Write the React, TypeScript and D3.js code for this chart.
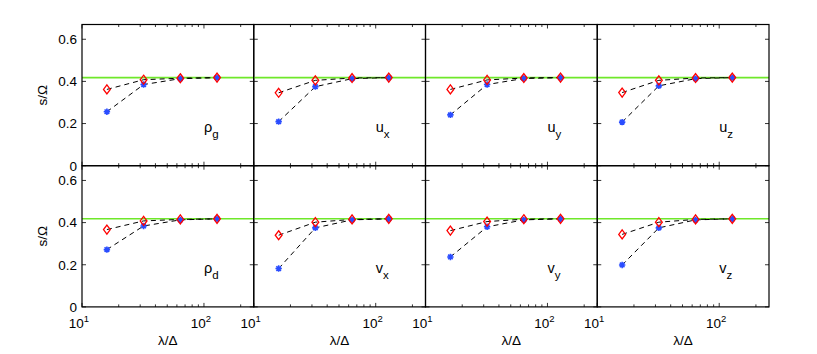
import React from "react";
import * as d3 from "d3";

// panel labels: main symbol + subscript
const panelLabels: [string, string][] = [
  ["ρ", "g"], ["u", "x"], ["u", "y"], ["u", "z"],
  ["ρ", "d"], ["v", "x"], ["v", "y"], ["v", "z"],
];

// resolution lambda/Delta
const lambdaValues = [16, 32, 64, 128];

// open red diamonds
const redSeries = [
  [0.362, 0.408, 0.415, 0.418],
  [0.346, 0.405, 0.416, 0.418],
  [0.362, 0.407, 0.416, 0.418],
  [0.347, 0.405, 0.416, 0.418],
  [0.367, 0.408, 0.415, 0.418],
  [0.340, 0.402, 0.415, 0.418],
  [0.362, 0.405, 0.416, 0.418],
  [0.344, 0.402, 0.415, 0.418],
];

// blue asterisks
const blueSeries = [
  [0.256, 0.385, 0.413, 0.418],
  [0.209, 0.375, 0.413, 0.418],
  [0.241, 0.385, 0.414, 0.418],
  [0.207, 0.379, 0.413, 0.418],
  [0.272, 0.384, 0.413, 0.418],
  [0.182, 0.375, 0.413, 0.418],
  [0.237, 0.380, 0.413, 0.418],
  [0.199, 0.375, 0.413, 0.418],
];

const growthRate = 0.418; // green reference line
const yTicks = [0, 0.2, 0.4, 0.6];
const yTickLabels = ["0", "0.2", "0.4", "0.6"];

const left = 82;
const top = 24.5;
const panelW = 171.75;
const panelH = 141.2;
const font = "'Liberation Sans', Arial, sans-serif";

const x = d3.scaleLog().domain([10, 256]).range([0, panelW]);
const y = d3.scaleLinear().domain([0, 0.67]).range([panelH, 0]);

const line = d3
  .line<number>()
  .x((_, i) => x(lambdaValues[i]))
  .y((d) => y(d));

const diamond = "M0,-4.5L3.4,0L0,4.5L-3.4,0Z";
const asterisk = "M-3.2,0H3.2M0,-3.2V3.2M-2.3,-2.3L2.3,2.3M-2.3,2.3L2.3,-2.3";

const Panel = ({ idx }: { idx: number }) => {
  const col = idx % 4;
  const row = Math.floor(idx / 4);
  const tx = left + col * panelW;
  const ty = top + row * panelH;
  const xt = x.ticks();
  const [sym, sub] = panelLabels[idx];
  return (
    <g transform={`translate(${tx},${ty})`}>
      <line x1={0} x2={panelW} y1={y(growthRate)} y2={y(growthRate)} stroke="#6fe82a" strokeWidth={1.6} />
      <path d={line(redSeries[idx]) || ""} fill="none" stroke="#000" strokeWidth={1} strokeDasharray="5,4" />
      <path d={line(blueSeries[idx]) || ""} fill="none" stroke="#000" strokeWidth={1} strokeDasharray="5,4" />
      {blueSeries[idx].map((v, i) => (
        <path key={"b" + i} d={asterisk} transform={`translate(${x(lambdaValues[i])},${y(v)})`} stroke="#2a4dff" strokeWidth={1.6} fill="none" />
      ))}
      {redSeries[idx].map((v, i) => (
        <path key={"r" + i} d={diamond} transform={`translate(${x(lambdaValues[i])},${y(v)})`} stroke="#ff0000" strokeWidth={1.3} fill="none" />
      ))}
      {xt.map((t, i) => {
        const major = Math.abs(Math.log10(t) - Math.round(Math.log10(t))) < 1e-9;
        const len = major ? 4 : 2.5;
        return (
          <g key={"xt" + i} stroke="#000" strokeWidth={0.8}>
            <line x1={x(t)} x2={x(t)} y1={panelH} y2={panelH - len} />
            <line x1={x(t)} x2={x(t)} y1={0} y2={len} />
          </g>
        );
      })}
      {yTicks.map((t, i) => (
        <g key={"yt" + i} stroke="#000" strokeWidth={0.8}>
          <line x1={0} x2={4} y1={y(t)} y2={y(t)} />
          <line x1={panelW} x2={panelW - 4} y1={y(t)} y2={y(t)} />
        </g>
      ))}
      <rect x={0} y={0} width={panelW} height={panelH} fill="none" stroke="#000" strokeWidth={1.2} />
      <text x={x(100)} y={y(0.16)} fontFamily={font} fontSize={14.5} fill="#000">
        {sym}
        <tspan fontSize={11.5} dy={6}>{sub}</tspan>
      </text>
      {col === 0 &&
        yTicks.map((t, i) => (
          <text key={"yl" + i} x={-5} y={y(t) + 4.8} textAnchor="end" fontFamily={font} fontSize={13.5} fill="#000">
            {yTickLabels[i]}
          </text>
        ))}
      {col === 0 && (
        <text transform={`translate(-35,${panelH / 2}) rotate(-90)`} textAnchor="middle" fontFamily={font} fontSize={13.5} fill="#000">
          s/Ω
        </text>
      )}
      {row === 1 &&
        [10, 100].map((t) => (
          <text key={"xl" + t} x={x(t) - 3} y={panelH + 21} textAnchor="middle" fontFamily={font} fontSize={13.5} fill="#000">
            10
            <tspan fontSize={9.5} dy={-6}>{Math.round(Math.log10(t))}</tspan>
          </text>
        ))}
      {row === 1 && (
        <text x={panelW / 2} y={panelH + 38} textAnchor="middle" fontFamily={font} fontSize={13.5} fill="#000">
          λ/Δ
        </text>
      )}
    </g>
  );
};

export default function App() {
  return (
    <svg width={817} height={354} style={{ position: "absolute", left: 0, top: 0, background: "#fff" }}>
      <rect width={817} height={354} fill="#fff" />
      {panelLabels.map((_, i) => (
        <Panel key={i} idx={i} />
      ))}
    </svg>
  );
}
